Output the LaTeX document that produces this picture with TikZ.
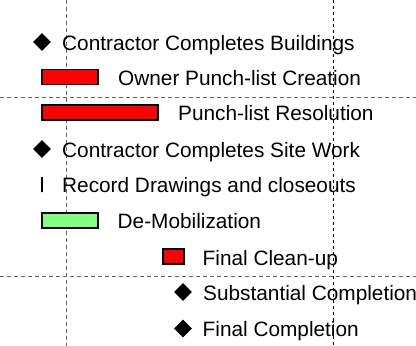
\documentclass[tikz,border=0pt]{standalone}
\usepackage{fontspec}
\setmainfont{Liberation Sans}
\usetikzlibrary{shapes.geometric}
\begin{document}
\begin{tikzpicture}[x=1pt,y=-1pt,
  lbl/.style={anchor=base west,inner sep=0pt,font=\fontsize{20.8}{24}\selectfont},
  bar/.style={draw=black,line width=1.1pt,inner sep=0pt,minimum height=15pt},
  redbar/.style={bar,fill=red},
  greenbar/.style={bar,fill={rgb,255:red,128;green,255;blue,128}},
  milestone/.style={diamond,fill=black,inner sep=0pt,minimum width=18pt,minimum height=18pt},
  tick/.style={draw=black,line width=1.6pt,inner sep=0pt,minimum width=0pt,minimum height=15pt},
  grayline/.style={draw={rgb,255:red,100;green,100;blue,100},line width=1pt,dash pattern=on 4pt off 3pt},
  blackline/.style={draw=black,line width=0.9pt,dash pattern=on 3pt off 3pt}]
\useasboundingbox (0,0) rectangle (416,346);
\fill[white] (0,0) rectangle (416,346);
% grid lines
\draw[grayline] (66,0) -- (66,346);
\draw[blackline] (333,0) -- (333,346);
\draw[grayline] (0,97) -- (416,97);
\draw[grayline] (0,276) -- (416,276);
% row 1
\node[milestone] (m1) at (42,42) {};
\node[lbl] (t1) at (62,50) {Contractor Completes Buildings};
% row 2
\node[redbar,minimum width=56pt] (b2) at (70,77) {};
\node[lbl] (t2) at (118,85) {Owner Punch-list Creation};
% row 3
\node[redbar,minimum width=116pt] (b3) at (100,112.5) {};
\node[lbl] (t3) at (178,120.5) {Punch-list Resolution};
% row 4
\node[milestone] (m4) at (42,149) {};
\node[lbl] (t4) at (62,157) {Contractor Completes Site Work};
% row 5
\node[tick] (k5) at (42,184.5) {};
\node[lbl] (t5) at (62,192) {Record Drawings and closeouts};
% row 6
\node[greenbar,minimum width=56pt] (b6) at (70,220.5) {};
\node[lbl] (t6) at (117.5,228.5) {De-Mobilization};
% row 7
\node[redbar,minimum width=21pt] (b7) at (173.5,256.5) {};
\node[lbl] (t7) at (202.5,265) {Final Clean-up};
% row 8
\node[milestone] (m8) at (183,292) {};
\node[lbl] (t8) at (203,300) {Substantial Completion};
% row 9
\node[milestone] (m9) at (183,328.5) {};
\node[lbl] (t9) at (202.5,336) {Final Completion};
\end{tikzpicture}
\end{document}
